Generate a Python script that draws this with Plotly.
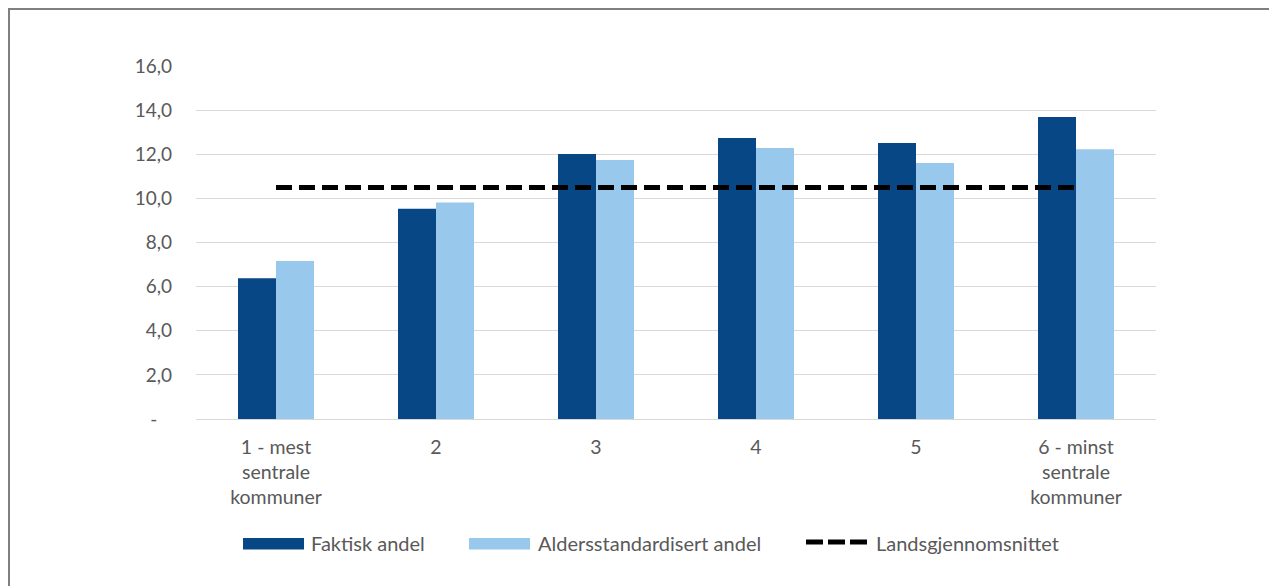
import plotly.graph_objects as go

categories = ["1 - mest<br>sentrale<br>kommuner", "2", "3", "4", "5", "6 - minst<br>sentrale<br>kommuner"]
faktisk = [6.38, 9.53, 12.01, 12.74, 12.51, 13.69]
alders = [7.16, 9.81, 11.74, 12.28, 11.60, 12.23]
landsgj = [10.49, 10.49, 10.49, 10.49, 10.49, 10.49]
tick_vals = [0, 2, 4, 6, 8, 10, 12, 14, 16]
tick_text = ["-   ", "2,0", "4,0", "6,0", "8,0", "10,0", "12,0", "14,0", "16,0"]
series_names = ["Faktisk andel", "Aldersstandardisert andel", "Landsgjennomsnittet"]

FONT = "Lato, Open Sans, sans-serif"
GRAY = "#595959"
DARK = "#084785"
LIGHT = "#98C8EC"

fig = go.Figure()
fig.add_trace(go.Bar(x=categories, y=faktisk, name=series_names[0],
                     marker=dict(color=DARK, line=dict(width=0))))
fig.add_trace(go.Bar(x=categories, y=alders, name=series_names[1],
                     marker=dict(color=LIGHT, line=dict(width=0))))
fig.add_trace(go.Scatter(x=categories, y=landsgj, name=series_names[2], mode="lines",
                         line=dict(color="black", width=5, dash="16px,7px")))

OFF = 8  # page offset of the figure
W, H = 1277 - OFF, 586 - OFF
L, R, T, B = 196 - OFF, 1277 - 1156, 66 - OFF, 586 - 419
pw, ph = W - L - R, H - T - B

def px(x):
    return (x - OFF - L) / pw

def py(y):
    return (H - B - (y - OFF)) / ph

shapes = [
    dict(type="line", xref="paper", yref="paper", x0=px(0), x1=px(1277), y0=py(9), y1=py(9),
         line=dict(color="#7F7F7F", width=2)),
    dict(type="line", xref="paper", yref="paper", x0=px(9), x1=px(9), y0=py(8), y1=py(586),
         line=dict(color="#7F7F7F", width=2)),
    # legend symbols
    dict(type="rect", xref="paper", yref="paper", x0=px(243), x1=px(304), y0=py(538), y1=py(549.5),
         fillcolor=DARK, line=dict(width=0)),
    dict(type="rect", xref="paper", yref="paper", x0=px(469), x1=px(530), y0=py(538), y1=py(549.5),
         fillcolor=LIGHT, line=dict(width=0)),
    dict(type="line", xref="paper", yref="paper", x0=px(806), x1=px(872), y0=py(542), y1=py(542),
         line=dict(color="black", width=5, dash="17px,5px")),
]

annotations = [
    dict(text=series_names[0], xref="paper", yref="paper", x=px(309), y=py(543),
         xanchor="left", yanchor="middle", showarrow=False,
         font=dict(family=FONT, size=20, color=GRAY)),
    dict(text=series_names[1], xref="paper", yref="paper", x=px(536), y=py(543),
         xanchor="left", yanchor="middle", showarrow=False,
         font=dict(family=FONT, size=20, color=GRAY)),
    dict(text=series_names[2], xref="paper", yref="paper", x=px(874), y=py(543),
         xanchor="left", yanchor="middle", showarrow=False,
         font=dict(family=FONT, size=20, color=GRAY)),
]

fig.update_layout(
    width=W, height=H,
    margin=dict(l=L, r=R, t=T, b=B),
    paper_bgcolor="white", plot_bgcolor="white",
    barmode="group", bargap=0.525, bargroupgap=0,
    font=dict(family=FONT, size=19, color=GRAY),
    showlegend=False,
    xaxis=dict(showgrid=False, showline=False, ticks="", tickfont=dict(size=19.5, color=GRAY),
               ticklabelstandoff=14),
    yaxis=dict(range=[0, 16], tickvals=tick_vals, ticktext=tick_text, showgrid=True,
               gridcolor="#D9D9D9", gridwidth=1, zeroline=True, zerolinecolor="#D9D9D9",
               zerolinewidth=1, showline=False, ticks="", tickfont=dict(size=19, color=GRAY),
               ticklabelstandoff=23),
    shapes=shapes,
    annotations=annotations,
)

fig.write_html("out.html")
